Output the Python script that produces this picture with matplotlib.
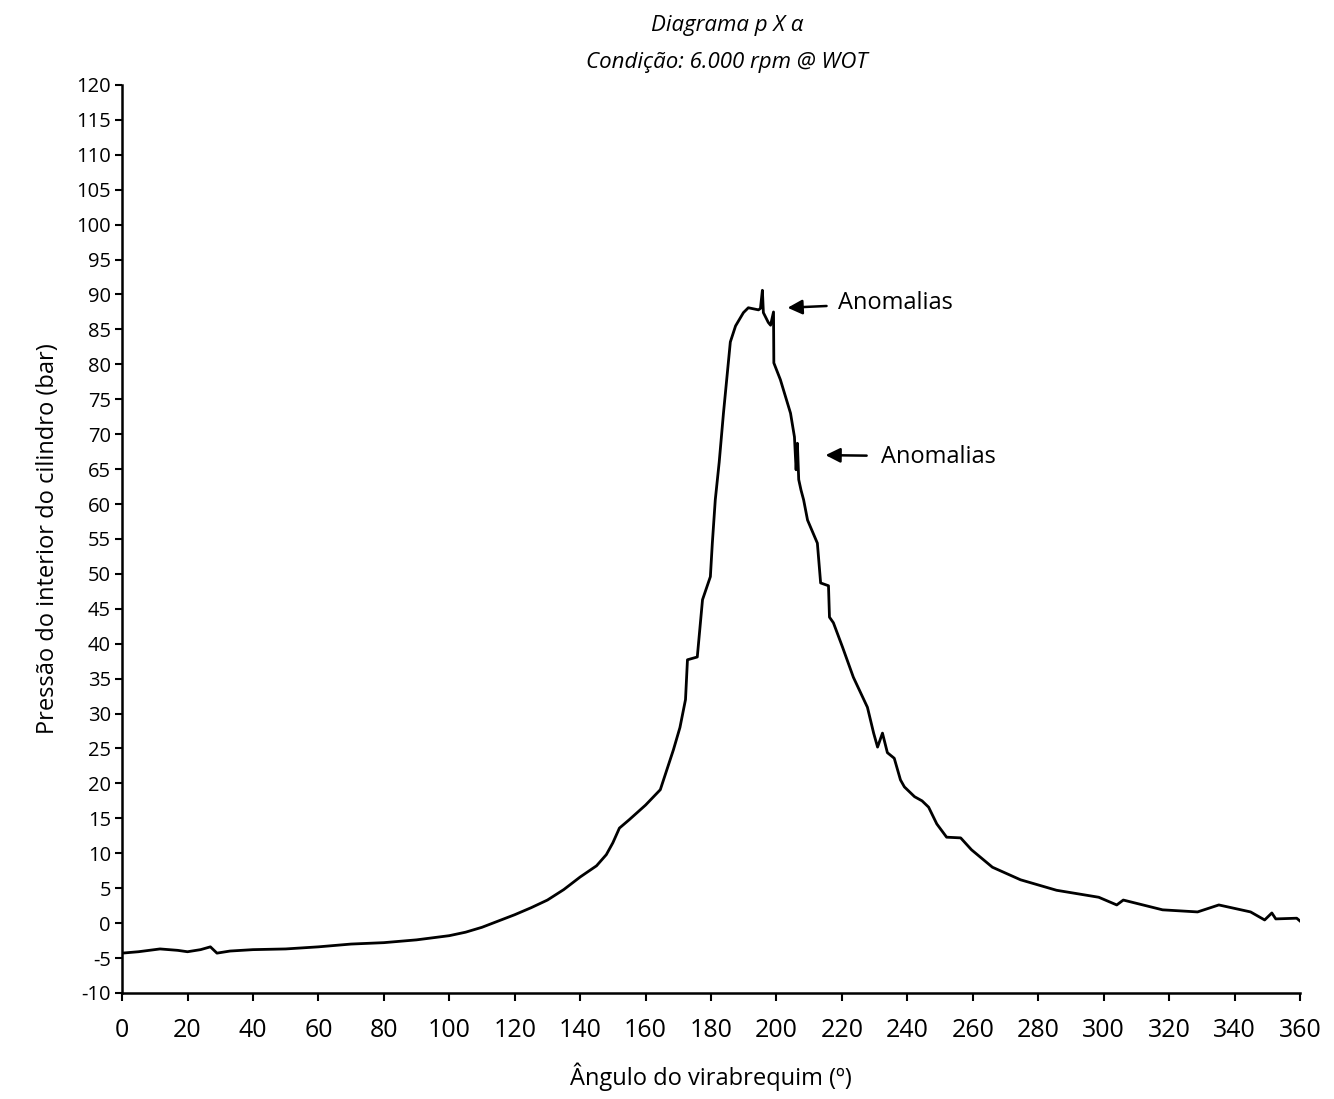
import numpy as np
import matplotlib
matplotlib.use('Agg')
import matplotlib.pyplot as plt

plt.rcParams['font.family'] = ['Open Sans', 'DejaVu Sans']
plt.rcParams['axes.unicode_minus'] = False

# crank angle (deg) and cylinder pressure (bar)
angle = [0, 5, 11.6, 17, 20, 24, 27, 29, 33, 40, 50, 60, 70, 80, 90, 100, 105, 110,
         115, 120, 125, 130, 135, 140, 145, 148, 150, 152, 155, 160, 164.5, 168.5,
         170.5, 172.2, 172.8, 175.8, 177.4, 179.8, 180.4, 181.3, 182.5, 183.8, 185.9,
         187.5, 189.9, 191.4, 194.5, 195.1, 195.7, 196.0, 197.5, 198.2, 199.1, 199.2,
         201.2, 204.3, 205.5, 206.0, 206.4, 206.8, 207.5, 208.3, 209.5, 212.5, 213.5,
         215.9, 216.2, 217.4, 220.2, 223.5, 227.8, 229.7, 230.9, 232.4, 233.9, 236,
         237.9, 239.1, 242.2, 244.5, 246.5, 249, 252, 256.3, 259.6, 266, 274.6, 285.6,
         298.5, 304, 306, 318, 328.7, 335.2, 344.9, 349.2, 351.4, 352.6, 359, 360]
pressure = [-4.3, -4.1, -3.7, -3.9, -4.1, -3.8, -3.4, -4.3, -4.0, -3.8, -3.7, -3.4, -3.0,
            -2.8, -2.4, -1.8, -1.3, -0.6, 0.3, 1.2, 2.2, 3.3, 4.8, 6.6, 8.2, 9.8, 11.5,
            13.6, 14.8, 16.9, 19.1, 24.8, 28, 32, 37.7, 38.1, 46.3, 49.6, 54.4, 60.6, 66,
            73, 83.2, 85.5, 87.4, 88.1, 87.8, 88.0, 90.6, 87.4, 86.0, 85.6, 87.5, 80.2,
            77.8, 73, 69.6, 64.9, 68.7, 63.5, 62, 60.6, 57.7, 54.4, 48.7, 48.3, 43.8, 43,
            39.5, 35.2, 30.9, 27.2, 25.2, 27.2, 24.4, 23.6, 20.5, 19.5, 18.1, 17.5, 16.6,
            14.2, 12.3, 12.2, 10.5, 8.0, 6.2, 4.7, 3.7, 2.6, 3.3, 1.9, 1.6, 2.6, 1.6, 0.45,
            1.45, 0.6, 0.7, 0.3]

x_ticks = list(range(0, 361, 20))
y_ticks = list(range(-10, 121, 5))

fig = plt.figure(figsize=(13.34, 10.99), dpi=100)
ax = fig.add_axes([0.0915, 0.0965, 0.883, 0.8262])

ax.plot(angle, pressure, color='black', linewidth=2.0)

ax.set_xlim(0, 360)
ax.set_ylim(-10, 120)
ax.set_xticks(x_ticks)
ax.set_yticks(y_ticks)
ax.tick_params(axis='x', labelsize=18, length=6, width=1.5, pad=12)
ax.tick_params(axis='y', labelsize=14.5, length=5, width=1.5, pad=3)
for s in ['top', 'right']:
    ax.spines[s].set_visible(False)
for s in ['left', 'bottom']:
    ax.spines[s].set_linewidth(1.8)

ax.set_xlabel('Ângulo do virabrequim (º)', fontsize=17, labelpad=14)
ax.set_ylabel('Pressão do interior do cilindro (bar)', fontsize=17, labelpad=12)

fig.text(0.545, 0.977, 'Diagrama p X α', ha='center', va='center', fontsize=16,
         style='italic')
fig.text(0.545, 0.943, 'Condição: 6.000 rpm @ WOT', ha='center', va='center', fontsize=16,
         style='italic')

ax.annotate('Anomalias', xy=(203.4, 88.1), xytext=(218.7, 88.8), fontsize=17,
            va='center', ha='left',
            arrowprops=dict(arrowstyle='-|>', color='black', lw=1.8, mutation_scale=22,
                            shrinkA=6, shrinkB=0))
ax.annotate('Anomalias', xy=(215.0, 67.0), xytext=(231.8, 66.8), fontsize=17,
            va='center', ha='left',
            arrowprops=dict(arrowstyle='-|>', color='black', lw=1.8, mutation_scale=22,
                            shrinkA=8, shrinkB=0))

fig.savefig('out.png', dpi=100)
